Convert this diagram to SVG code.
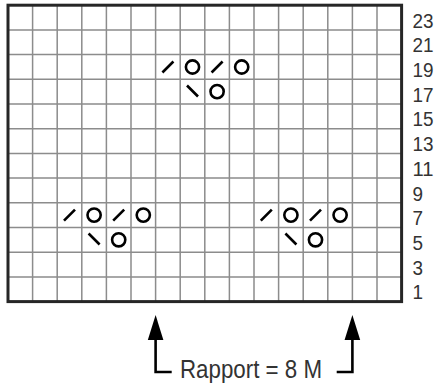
<svg xmlns="http://www.w3.org/2000/svg" xmlns:xlink="http://www.w3.org/1999/xlink" width="438" height="385" viewBox="0 0 438 385">
  <style>
    .grid { stroke: #8c8c8c; stroke-width: 1.5; fill: none; }
    .border { stroke: #262626; stroke-width: 3; fill: none; }
    .sym { stroke: #000; stroke-width: 2.6; fill: none; }
    .lbl { font-family: "Liberation Sans", Arial, sans-serif; font-size: 20.5px; fill: #333; }
    .cap { font-family: "Liberation Sans", Arial, sans-serif; font-size: 26px; fill: #333; }
    .conn { stroke: #000; stroke-width: 2.6; fill: none; }
  </style>
  <defs>
    <g id="k2tog"><line class="sym" x1="-5.5" y1="5.5" x2="5.5" y2="-5.5"/></g>
    <g id="ssk"><line class="sym" x1="-5.5" y1="-5.5" x2="5.5" y2="5.5"/></g>
    <g id="yo"><circle class="sym" cx="0" cy="0" r="6.6" stroke-width="2"/></g>
  </defs>
  <rect width="438" height="385" fill="#fff"/>

  <g id="grid">
    <path class="grid" d="M32.6,5.2V301.6 M57.2,5.2V301.6 M81.8,5.2V301.6 M106.4,5.2V301.6 M131,5.2V301.6 M155.6,5.2V301.6 M180.2,5.2V301.6 M204.8,5.2V301.6 M229.4,5.2V301.6 M254,5.2V301.6 M278.6,5.2V301.6 M303.2,5.2V301.6 M327.8,5.2V301.6 M352.4,5.2V301.6 M377,5.2V301.6"/>
    <path class="grid" d="M8,29.9H401.6 M8,54.6H401.6 M8,79.3H401.6 M8,104H401.6 M8,128.7H401.6 M8,153.4H401.6 M8,178.1H401.6 M8,202.8H401.6 M8,227.5H401.6 M8,252.2H401.6 M8,276.9H401.6"/>
    <rect class="border" x="8" y="5.2" width="393.6" height="296.4"/>
  </g>

  <g id="motif-top">
    <use xlink:href="#k2tog" x="167.9" y="67"/>
    <use xlink:href="#yo" x="192.5" y="67"/>
    <use xlink:href="#k2tog" x="217.1" y="67"/>
    <use xlink:href="#yo" x="241.7" y="67"/>
    <use xlink:href="#ssk" x="192.5" y="91"/>
    <use xlink:href="#yo" x="217.1" y="91.6"/>
  </g>
  <g id="motif-left">
    <use xlink:href="#k2tog" x="69.5" y="215.1"/>
    <use xlink:href="#yo" x="94.1" y="215.1"/>
    <use xlink:href="#k2tog" x="118.7" y="215.1"/>
    <use xlink:href="#yo" x="143.3" y="215.1"/>
    <use xlink:href="#ssk" x="94.1" y="239"/>
    <use xlink:href="#yo" x="118.7" y="239.8"/>
  </g>
  <g id="motif-right">
    <use xlink:href="#k2tog" x="266.3" y="215.1"/>
    <use xlink:href="#yo" x="290.9" y="215.1"/>
    <use xlink:href="#k2tog" x="315.5" y="215.1"/>
    <use xlink:href="#yo" x="340.1" y="215.1"/>
    <use xlink:href="#ssk" x="290.9" y="239"/>
    <use xlink:href="#yo" x="315.5" y="239.8"/>
  </g>

  <g id="row-labels" class="lbl">
    <text x="412.5" y="27.6" textLength="21" lengthAdjust="spacingAndGlyphs">23</text>
    <text x="412.5" y="52.3" textLength="21" lengthAdjust="spacingAndGlyphs">21</text>
    <text x="412.5" y="77" textLength="21" lengthAdjust="spacingAndGlyphs">19</text>
    <text x="412.5" y="101.7" textLength="21" lengthAdjust="spacingAndGlyphs">17</text>
    <text x="412.5" y="126.4" textLength="21" lengthAdjust="spacingAndGlyphs">15</text>
    <text x="412.5" y="151.1" textLength="21" lengthAdjust="spacingAndGlyphs">13</text>
    <text x="412.5" y="175.8" textLength="21" lengthAdjust="spacingAndGlyphs">11</text>
    <text x="412.5" y="200.5" textLength="10.5" lengthAdjust="spacingAndGlyphs">9</text>
    <text x="412.5" y="225.2" textLength="10.5" lengthAdjust="spacingAndGlyphs">7</text>
    <text x="412.5" y="249.9" textLength="10.5" lengthAdjust="spacingAndGlyphs">5</text>
    <text x="412.5" y="274.6" textLength="10.5" lengthAdjust="spacingAndGlyphs">3</text>
    <text x="412.5" y="299.3" textLength="10.5" lengthAdjust="spacingAndGlyphs">1</text>
  </g>

  <g id="connectors">
    <path class="conn" d="M171.7,372 H155.6 V338" />
    <path d="M155.6,315 L163.4,340 L147.8,340 Z" fill="#000"/>
    <path class="conn" d="M336.7,372 H352.4 V338" />
    <path d="M352.4,315 L360.2,340 L344.6,340 Z" fill="#000"/>
  </g>

  <g id="caption">
    <text class="cap" x="180" y="378" textLength="142" lengthAdjust="spacingAndGlyphs">Rapport = 8 M</text>
  </g>
</svg>
